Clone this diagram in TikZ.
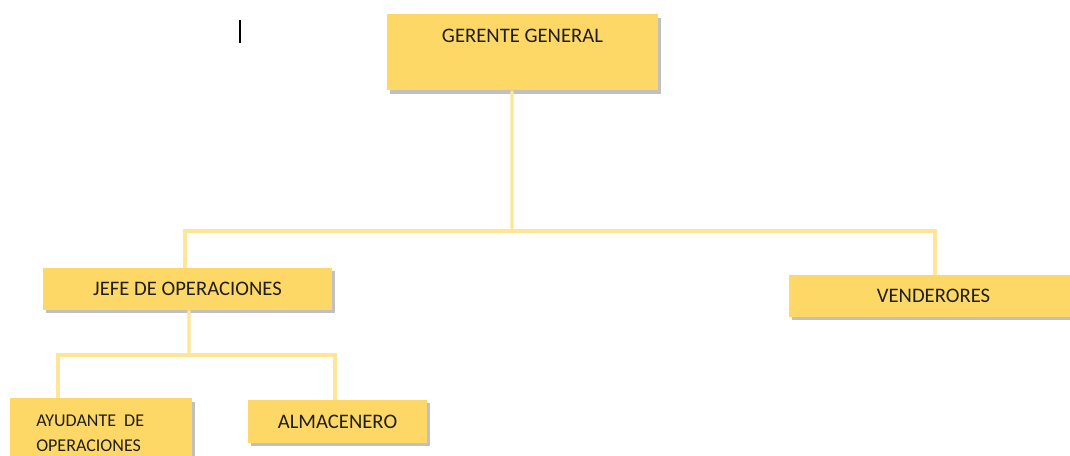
\documentclass[tikz,border=0pt]{standalone}
\usepackage{fontspec}
\setmainfont{Carlito}
\usetikzlibrary{positioning,shadows}

\begin{document}
\begin{tikzpicture}[x=0.75pt, y=-0.75pt,
  box/.style={fill={rgb,255:red,254;green,216;blue,102}, inner sep=0pt, text=black!88,
    font=\fontsize{15.5}{18}\selectfont,
    drop shadow={shadow xshift=2pt, shadow yshift=-2.5pt, fill=black!55, opacity=.45}},
  conn/.style={draw={rgb,255:red,255;green,229;blue,150}, line width=2.4pt}]
  \useasboundingbox (0,0) rectangle (1070,455);
  \draw[line width=0.8pt] (240,20) -- (240,43);

  \node[box, minimum width=203.25pt, text height=21.4pt, text depth=35.6pt] (gg) at (522.5,14) [anchor=north] {GERENTE GENERAL};
  \node[box, minimum width=216.75pt, minimum height=31.5pt] (jo) at (187.5,289) {JEFE DE OPERACIONES};
  \node[box, minimum width=216.75pt, minimum height=31.5pt] (ve) at (933.5,296) {VENDERORES};
  \node[box, anchor=north west, inner xsep=19.5pt, text width=97.5pt, align=left, minimum height=52pt,
    font=\fontsize{13.5}{18.75}\selectfont] (ay) at (10,398) {AYUDANTE\hspace{0.45em}DE\\OPERACIONES};
  \node[box, minimum width=134.25pt, minimum height=32.25pt] (al) at (337.5,421.5) {ALMACENERO};

  \coordinate (bar) at (512,231);
  \coordinate (bar2) at (189,355);
  \draw[conn] ([xshift=-7.9pt]gg.south) -- (bar);
  \draw[conn] ([xshift=-1.9pt]jo.north) |- (bar) -| ([xshift=1.1pt]ve.north);
  \draw[conn] ([xshift=1.1pt]jo.south) -- (bar2);
  \draw[conn] (58,398) |- (bar2) -| ([xshift=-1.9pt]al.north);
\end{tikzpicture}
\end{document}
